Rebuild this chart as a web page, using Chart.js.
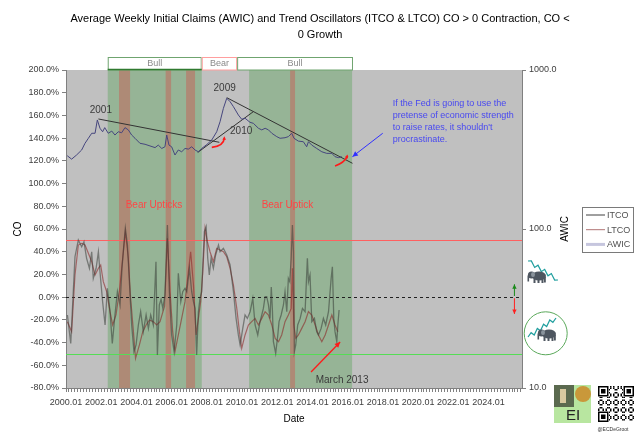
<!DOCTYPE html>
<html><head><meta charset="utf-8">
<script src="https://cdn.jsdelivr.net/npm/chart.js@4.4.1/dist/chart.umd.min.js"></script>
<style>html,body{margin:0;padding:0;background:#fff;}#wrap{width:640px;height:438px;position:relative;}</style>
</head><body><div id="wrap"><canvas id="c" width="640" height="438"></canvas></div>
<script>
// ---------------- DATA ----------------
const chartTitle = ["Average Weekly Initial Claims (AWIC) and Trend Oscillators (ITCO & LTCO) CO > 0 Contraction, CO <", "0 Growth"];
const tickYears = [2000,2002,2004,2006,2008,2010,2012,2014,2016,2018,2020,2022,2024];
const xMin = 2000, xMax = 2025.9, minorStep = 1/6;
const coTicksMin = -80, coTicksMax = 200, coStep = 20;
const awicTicks = [10, 100, 1000];

const awicX = [2000.07,2000.32,2000.6,2000.89,2001.08,2001.27,2001.46,2001.65,2001.78,2001.93,2002.08,2002.2,2002.4,2002.6,2002.78,2002.97,2003.16,2003.35,2003.54,2003.73,2003.92,2004.2,2004.49,2004.77,2005.06,2005.24,2005.44,2005.62,2005.72,2005.85,2006.0,2006.19,2006.38,2006.57,2006.76,2006.95,2007.14,2007.33,2007.52,2007.71,2008.0,2008.28,2008.56,2008.75,2008.94,2009.13,2009.32,2009.51,2009.79,2009.98,2010.17,2010.45,2010.64,2010.93,2011.12,2011.31,2011.5,2011.69,2011.97,2012.16,2012.44,2012.63,2012.82,2012.95,2013.2,2013.48,2013.67,2013.77,2013.96,2014.24,2014.53,2014.81,2015.1,2015.28,2015.47,2015.66];
const awicY = [289,275,292,314,346,372,400,400,485,430,409,434,400,413,390,409,403,434,420,390,372,346,341,333,325,337,321,329,390,337,329,292,314,306,321,318,329,314,306,321,340,363,409,473,574,664,632,588,521,490,497,469,462,430,420,430,420,400,381,372,375,381,400,372,357,354,329,354,337,321,306,299,299,285,281,285];

const itcoX = [2000.08,2000.27,2000.51,2000.70,2000.89,2001.02,2001.17,2001.33,2001.46,2001.55,2001.71,2001.84,2001.93,2002.08,2002.22,2002.35,2002.50,2002.63,2002.78,2002.92,2003.07,2003.18,2003.30,2003.37,2003.49,2003.60,2003.73,2003.86,2003.98,2004.11,2004.24,2004.39,2004.55,2004.68,2004.81,2004.96,2005.11,2005.19,2005.30,2005.40,2005.50,2005.62,2005.76,2005.87,2006.00,2006.14,2006.29,2006.38,2006.52,2006.63,2006.76,2006.86,2007.01,2007.14,2007.24,2007.33,2007.42,2007.52,2007.61,2007.71,2007.77,2007.86,2007.96,2008.05,2008.14,2008.24,2008.37,2008.50,2008.66,2008.75,2008.94,2009.13,2009.32,2009.51,2009.66,2009.79,2009.89,2010.04,2010.17,2010.30,2010.46,2010.61,2010.74,2010.89,2011.02,2011.12,2011.21,2011.31,2011.40,2011.50,2011.59,2011.66,2011.72,2011.78,2011.91,2012.03,2012.10,2012.22,2012.35,2012.44,2012.54,2012.63,2012.71,2012.79,2012.86,2012.92,2012.97,2013.05,2013.16,2013.30,2013.43,2013.58,2013.71,2013.77,2013.86,2013.96,2014.11,2014.24,2014.34,2014.49,2014.62,2014.75,2014.91,2015.06,2015.13,2015.21,2015.28,2015.38,2015.44,2015.51];
const itcoY = [-15.7,-40.7,35.6,50.3,44.4,48.8,34.2,25.4,40.0,16.5,25.4,40.0,22.4,-4.0,-24.5,7.8,-12.8,-40.7,-15.7,4.8,-6.9,25.4,48.8,60.6,45.9,13.6,-24.5,-48.0,-42.1,-24.5,-12.8,-30.4,-15.7,-27.5,-15.7,-24.5,31.2,-51.0,-6.9,-2.0,-9.9,1.9,63.5,4.8,-33.3,-48.0,-24.5,21.0,-4.0,4.8,7.8,4.8,25.4,4.8,-4.0,-9.9,-51.0,-12.8,-1.0,4.8,28.3,57.6,62.1,34.2,19.5,34.2,25.4,37.1,45.9,40.0,43.0,37.1,28.3,4.8,-18.7,-33.3,-42.1,-27.5,-15.7,-18.7,-12.8,-1.0,-24.5,-33.3,-21.6,-15.7,-9.9,0.4,0.4,-6.9,-18.7,9.0,-9.9,-39.2,-49.5,-33.3,-21.6,-15.7,-6.9,4.8,-12.8,16.5,13.6,34.2,63.5,40.0,-48.0,-42.1,-24.5,-18.7,-9.9,-12.8,34.2,13.6,19.5,-21.6,-18.7,-30.4,-33.3,-27.5,-18.7,-24.5,-12.8,16.5,26.8,-18.7,-30.4,-39.2,-24.5,-11.3];

const ltcoX = [2000.08,2000.32,2000.51,2000.70,2000.89,2001.08,2001.27,2001.46,2001.65,2001.84,2001.97,2002.12,2002.31,2002.50,2002.65,2002.84,2003.03,2003.22,2003.37,2003.54,2003.67,2003.83,2003.95,2004.17,2004.36,2004.55,2004.74,2004.96,2005.15,2005.34,2005.60,2005.76,2005.91,2006.06,2006.19,2006.38,2006.57,2006.76,2006.95,2007.08,2007.24,2007.39,2007.52,2007.65,2007.77,2007.90,2008.03,2008.18,2008.37,2008.56,2008.75,2008.94,2009.13,2009.32,2009.51,2009.70,2009.85,2009.98,2010.17,2010.36,2010.55,2010.74,2010.93,2011.12,2011.31,2011.50,2011.69,2011.88,2012.07,2012.25,2012.44,2012.63,2012.79,2012.86,2012.94,2013.05,2013.20,2013.39,2013.58,2013.77,2013.96,2014.15,2014.34,2014.53,2014.72,2014.91,2015.10,2015.28,2015.44];
const ltcoY = [-21.6,-30.4,19.5,45.9,47.4,45.9,38.6,31.2,19.5,25.4,28.3,13.6,4.8,-12.8,-24.5,-15.7,4.8,34.2,57.6,34.2,-1.0,-30.4,-54.0,-42.1,-30.4,-24.5,-20.1,-21.6,-24.5,-21.6,-8.0,51.8,4.8,-30.4,-48.0,-33.3,-18.7,-4.0,22.4,40.0,10.7,-33.3,-18.7,-4.0,22.4,60.6,48.8,40.0,31.2,43.0,41.5,40.0,35.6,25.4,10.7,-9.9,-30.4,-45.1,-33.3,-24.5,-21.6,-18.7,-24.5,-18.7,-12.8,-15.7,-24.5,-36.3,-39.2,-33.3,-21.6,-15.7,-9.9,25.4,-24.5,-36.3,-33.3,-27.5,-21.6,-12.8,-15.7,-24.5,-33.3,-39.2,-33.3,-24.5,-15.7,-24.5,-30.4];

const trend2001X = [2001.84, 2008.71], trend2001Y = [492, 351];
const trend2009X = [2009.13, 2016.27], trend2009Y = [670, 259];
const trend2010X = [2007.48, 2010.64], trend2010Y = [303, 547];

const bullRanges = [[2002.37, 2007.71], [2010.40, 2016.25]];
const uptickRanges = [[2003.01, 2003.64], [2005.66, 2005.97], [2006.82, 2007.33], [2012.73, 2013.01]];
const regimeLabels = ['Bull', 'Bear', 'Bull'];
const regimeFrom = [2002.37, 2007.71, 2009.72];
const regimeTo = [2007.71, 2009.72, 2016.30];
const coUpper = 50, coLower = -50, coZero = 0;

const noteText = ['2001', '2009', '2010', 'Bear Upticks', 'Bear Uptick', 'March 2013'];
const noteX = [2001.98, 2009.01, 2009.95, 2005.0, 2012.58, 2015.68];
const noteY = [164.8, 183.9, 145.7, 81.1, 81.1, -73.0];
const fedText = ["If the Fed is going to use the", "pretense of economic strength", "to raise rates, it shouldn't", "procrastinate."];
const fedX = 2018.56, fedY = 170.1;
const fedArrowX = [2017.99, 2016.27], fedArrowY = [144.3, 123.7];
const marchArrowX = [2013.92, 2015.57], marchArrowY = [-65.9, -39.5];
const curve1X = [2008.28, 2008.95, 2009.0], curve1Y = [131.9, 133.0, 140.3];
const curve2X = [2015.28, 2015.8, 2016.0], curve2Y = [115.5, 118.0, 124.3];
const upArrowX = 2025.47, upArrowY = [1.0, 11.3], downArrowY = [-1.0, -14.8];

// ---------------- CHART ----------------
Chart.defaults.font.family = "'Liberation Sans', Arial, sans-serif";
const FONT = "'Liberation Sans', Arial, sans-serif";
const pts = (xs, ys) => xs.map((x, i) => ({x, y: ys[i]}));

function arrowHead(ctx, x1, y1, x2, y2, size) {
  const a = Math.atan2(y2 - y1, x2 - x1);
  ctx.beginPath();
  ctx.moveTo(x2, y2);
  ctx.lineTo(x2 - size * Math.cos(a - 0.45), y2 - size * Math.sin(a - 0.45));
  ctx.lineTo(x2 - size * Math.cos(a + 0.45), y2 - size * Math.sin(a + 0.45));
  ctx.closePath();
  ctx.fill();
}
function arrow(ctx, x1, y1, x2, y2, color, w, size) {
  ctx.strokeStyle = color; ctx.fillStyle = color; ctx.lineWidth = w;
  ctx.beginPath(); ctx.moveTo(x1, y1); ctx.lineTo(x2, y2); ctx.stroke();
  arrowHead(ctx, x1, y1, x2, y2, size);
}
function elephant(ctx, x, y, flip) {
  ctx.save(); ctx.translate(x, y); if (flip) ctx.scale(-1, 1);
  ctx.fillStyle = '#4e5660';
  ctx.beginPath(); ctx.ellipse(0, 0, 7, 4.5, 0, 0, Math.PI * 2); ctx.fill();
  ctx.beginPath(); ctx.arc(-7.5, -1, 3.6, 0, Math.PI * 2); ctx.fill();
  ctx.fillRect(-11.5, -0.5, 1.6, 6);
  ctx.fillRect(-5.5, 2, 2, 5); ctx.fillRect(-1.5, 2, 2, 5); ctx.fillRect(2.5, 2, 2, 5); ctx.fillRect(5, 1, 1.8, 5.5);
  ctx.fillStyle = '#8a939c';
  ctx.beginPath(); ctx.ellipse(-6, -1.5, 2, 2.6, 0, 0, Math.PI * 2); ctx.fill();
  ctx.restore();
}
function zigzag(ctx, x1, y1, x2, y2, n) {
  ctx.strokeStyle = '#1f9e9e'; ctx.lineWidth = 1.2;
  ctx.beginPath(); ctx.moveTo(x1, y1);
  for (let i = 1; i <= n; i++) {
    const t = i / n, off = (i % 2 ? -2.2 : 2.2);
    ctx.lineTo(x1 + (x2 - x1) * t, y1 + (y2 - y1) * t + (i < n ? off : 0));
  }
  ctx.stroke();
}

const deco = {
  id: 'deco',
  beforeDraw(chart) {
    const {ctx, chartArea: a, scales: {x}} = chart;
    const X = v => x.getPixelForValue(v);
    ctx.save();
    ctx.fillStyle = '#c0c0c0';
    ctx.fillRect(a.left, a.top, a.width, a.height);
    ctx.fillStyle = 'rgb(150,180,150)';
    bullRanges.forEach(([s, e]) => ctx.fillRect(X(s), a.top, X(e) - X(s), a.height));
    ctx.fillStyle = 'rgb(174,138,118)';
    uptickRanges.forEach(([s, e]) => ctx.fillRect(X(s), a.top, X(e) - X(s), a.height));
    // regime header boxes
    ctx.font = '9px ' + FONT; ctx.textAlign = 'center'; ctx.textBaseline = 'middle';
    regimeLabels.forEach((lab, i) => {
      const x1 = X(regimeFrom[i]), x2 = X(regimeTo[i]);
      ctx.fillStyle = '#fff';
      ctx.fillRect(x1, a.top - 13, x2 - x1, 13);
      ctx.strokeStyle = lab === 'Bear' ? '#ff9e9e' : '#6fa46f';
      ctx.lineWidth = 1;
      ctx.strokeRect(x1 + 0.5, a.top - 12.5, x2 - x1 - 1, 12.5);
      ctx.fillStyle = '#8a8a8a';
      ctx.fillText(lab, (x1 + x2) / 2, a.top - 6.5);
    });
    ctx.strokeStyle = '#2f7a2f'; ctx.lineWidth = 1.5;
    ctx.beginPath(); ctx.moveTo(X(regimeFrom[0]), a.top - 0.5); ctx.lineTo(X(regimeTo[0]), a.top - 0.5); ctx.stroke();
    ctx.restore();
  },
  beforeDatasetsDraw(chart) {
    const {ctx, chartArea: a, scales: {yL}} = chart;
    const Y = v => yL.getPixelForValue(v);
    ctx.save();
    ctx.lineWidth = 1;
    ctx.strokeStyle = '#ff6060';
    ctx.beginPath(); ctx.moveTo(a.left, Math.round(Y(coUpper)) + 0.5); ctx.lineTo(a.right, Math.round(Y(coUpper)) + 0.5); ctx.stroke();
    ctx.strokeStyle = '#55dd55';
    ctx.beginPath(); ctx.moveTo(a.left, Math.round(Y(coLower)) + 0.5); ctx.lineTo(a.right, Math.round(Y(coLower)) + 0.5); ctx.stroke();
    ctx.strokeStyle = '#202020'; ctx.setLineDash([3, 3]);
    ctx.beginPath(); ctx.moveTo(a.left, Math.round(Y(coZero)) + 0.5); ctx.lineTo(a.right, Math.round(Y(coZero)) + 0.5); ctx.stroke();
    ctx.restore();
  },
  afterDraw(chart) {
    const {ctx, chartArea: a, scales: {x, yL}} = chart;
    const X = v => x.getPixelForValue(v);
    const Y = v => yL.getPixelForValue(v);
    ctx.save();
    // title
    ctx.fillStyle = '#000'; ctx.font = '11px ' + FONT; ctx.textAlign = 'center'; ctx.textBaseline = 'middle';
    chartTitle.forEach((t, i) => ctx.fillText(t, 320, 19 + i * 16));
    // notes
    ctx.font = '10px ' + FONT;
    noteText.forEach((t, i) => {
      ctx.fillStyle = t.startsWith('Bear') ? '#ff4545' : '#3a3a3a';
      ctx.fillText(t, X(noteX[i]), Y(noteY[i]));
    });
    // fed text
    ctx.fillStyle = '#4848f0'; ctx.textAlign = 'left'; ctx.font = '9px ' + FONT;
    fedText.forEach((t, i) => ctx.fillText(t, X(fedX), Y(fedY) + i * 12));
    arrow(ctx, X(fedArrowX[0]), Y(fedArrowY[0]), X(fedArrowX[1]), Y(fedArrowY[1]), '#3030ff', 1, 6);
    arrow(ctx, X(marchArrowX[0]), Y(marchArrowY[0]), X(marchArrowX[1]), Y(marchArrowY[1]), '#ff1a1a', 1.3, 6);
    // red curved arrows
    [[curve1X, curve1Y], [curve2X, curve2Y]].forEach(([cx, cy]) => {
      ctx.strokeStyle = '#ff1a1a'; ctx.fillStyle = '#ff1a1a'; ctx.lineWidth = 1.6;
      ctx.beginPath(); ctx.moveTo(X(cx[0]), Y(cy[0]));
      ctx.quadraticCurveTo(X(cx[1]), Y(cy[1]), X(cx[2]), Y(cy[2])); ctx.stroke();
      arrowHead(ctx, X(cx[1]), Y(cy[1]), X(cx[2]), Y(cy[2]) - 1.5, 4);
    });
    // up/down arrows
    arrow(ctx, X(upArrowX), Y(upArrowY[0]), X(upArrowX), Y(upArrowY[1]), '#1a8a1a', 1, 5);
    arrow(ctx, X(upArrowX), Y(downArrowY[0]), X(upArrowX), Y(downArrowY[1]), '#ff2020', 1, 5);
    // AWIC axis title
    ctx.save(); ctx.translate(a.right + 43, (a.top + a.bottom) / 2); ctx.rotate(-Math.PI / 2);
    ctx.fillStyle = '#000'; ctx.font = '10px ' + FONT; ctx.textAlign = 'center'; ctx.textBaseline = 'middle';
    ctx.fillText('AWIC', 0, 0); ctx.restore();
    // legend
    const lx = a.right + 60, ly = (a.top + a.bottom) / 2 - 22;
    ctx.fillStyle = '#fff'; ctx.fillRect(lx, ly, 51, 45);
    ctx.strokeStyle = '#7a7a7a'; ctx.lineWidth = 1; ctx.strokeRect(lx + 0.5, ly + 0.5, 51, 45);
    ctx.font = '9px ' + FONT; ctx.textAlign = 'left'; ctx.textBaseline = 'middle';
    chart.data.datasets.filter(d => d.inLegend).forEach((d, i) => {
      const yy = ly + 8 + i * 14.7;
      ctx.strokeStyle = d.legendColor; ctx.lineWidth = d.legendWidth;
      ctx.beginPath(); ctx.moveTo(lx + 4, yy); ctx.lineTo(lx + 23, yy); ctx.stroke();
      ctx.fillStyle = '#505050'; ctx.fillText(d.label, lx + 25, yy + 0.5);
    });
    // icons
    zigzag(ctx, a.right + 6, 261, a.right + 36, 280, 9);
    elephant(ctx, a.right + 17, 276, false);
    ctx.strokeStyle = '#5aa85a'; ctx.lineWidth = 1;
    ctx.beginPath(); ctx.arc(a.right + 23.7, 333.3, 21.5, 0, Math.PI * 2); ctx.stroke();
    zigzag(ctx, a.right + 6, 337, a.right + 34, 318, 9);
    elephant(ctx, a.right + 27, 334, false);
    // EI logo
    ctx.fillStyle = '#b8e6a0'; ctx.fillRect(554, 385, 37, 38);
    ctx.fillStyle = '#5b6a4f'; ctx.fillRect(554, 385, 20, 22);
    ctx.fillStyle = '#d8c9a0'; ctx.fillRect(560, 389, 6, 14);
    ctx.fillStyle = '#c9983a'; ctx.beginPath(); ctx.arc(583, 394, 8, 0, Math.PI * 2); ctx.fill();
    ctx.fillStyle = '#222'; ctx.font = '15px ' + FONT; ctx.textAlign = 'center'; ctx.textBaseline = 'middle';
    ctx.fillText('EI', 573, 416);
    // QR-like mark
    const qx = 598, qy = 386, cs = 1.5;
    ctx.fillStyle = '#000';
    for (let i = 0; i < 24; i++) for (let j = 0; j < 24; j++) {
      if (((i * 7 + j * 11 + i * j) % 5) < 2) ctx.fillRect(qx + i * cs, qy + j * cs, cs, cs);
    }
    [[0, 0], [17, 0], [0, 17]].forEach(([i, j]) => {
      ctx.fillStyle = '#fff'; ctx.fillRect(qx + i * cs - 0.5, qy + j * cs - 0.5, 7 * cs + 1, 7 * cs + 1);
      ctx.fillStyle = '#000'; ctx.fillRect(qx + i * cs, qy + j * cs, 7 * cs, 7 * cs);
      ctx.fillStyle = '#fff'; ctx.fillRect(qx + (i + 1) * cs, qy + (j + 1) * cs, 5 * cs, 5 * cs);
      ctx.fillStyle = '#000'; ctx.fillRect(qx + (i + 2) * cs, qy + (j + 2) * cs, 3 * cs, 3 * cs);
    });
    ctx.fillStyle = '#333'; ctx.font = '5px ' + FONT; ctx.fillText('@ECDeGroot', 613, 430);
    ctx.restore();
  }
};

new Chart(document.getElementById('c'), {
  type: 'line',
  data: {
    datasets: [
      {label: 'ITCO', data: pts(itcoX, itcoY), yAxisID: 'yL', borderColor: 'rgba(55,60,55,0.55)', borderWidth: 1.3, pointRadius: 0, tension: 0, inLegend: true, legendColor: '#404040', legendWidth: 1},
      {label: 'LTCO', data: pts(ltcoX, ltcoY), yAxisID: 'yL', borderColor: 'rgba(140,40,40,0.6)', borderWidth: 1.2, pointRadius: 0, tension: 0, inLegend: true, legendColor: '#b07474', legendWidth: 1},
      {label: 'AWIC', data: pts(awicX, awicY), yAxisID: 'yR', borderColor: '#46467e', borderWidth: 1, pointRadius: 0, tension: 0, inLegend: true, legendColor: '#c6c6de', legendWidth: 3},
      {label: 'trend2001', data: pts(trend2001X, trend2001Y), yAxisID: 'yR', borderColor: '#333', borderWidth: 1, pointRadius: 0},
      {label: 'trend2009', data: pts(trend2009X, trend2009Y), yAxisID: 'yR', borderColor: '#333', borderWidth: 1, pointRadius: 0},
      {label: 'trend2010', data: pts(trend2010X, trend2010Y), yAxisID: 'yR', borderColor: '#333', borderWidth: 1, pointRadius: 0}
    ]
  },
  options: {
    responsive: false,
    animation: false,
    layout: {padding: {top: 70, left: 0, right: 0, bottom: 0}},
    plugins: {legend: {display: false}, title: {display: false}, tooltip: {enabled: false}},
    scales: {
      x: {
        type: 'linear', position: 'bottom', min: xMin, max: xMax,
        afterBuildTicks: s => {
          const t = [];
          for (let k = 0; xMin + k * minorStep <= xMax + 1e-9; k++) t.push({value: xMin + k * minorStep});
          s.ticks = t;
        },
        ticks: {
          autoSkip: false, maxRotation: 0, minRotation: 0, padding: 5, color: '#404040', font: {size: 9},
          callback: v => { const yr = tickYears.find(t => Math.abs(t - v) < 1e-6); return yr !== undefined ? yr + '.01' : ''; }
        },
        grid: {display: true, drawOnChartArea: false, drawTicks: true, tickLength: 4, color: '#808080'},
        border: {display: true, color: '#808080'},
        title: {display: true, text: 'Date', color: '#000', font: {size: 10}, padding: {top: 0, bottom: 13}},
        afterFit: s => { s.height = 50; }
      },
      yL: {
        type: 'linear', position: 'left', min: coTicksMin, max: coTicksMax,
        ticks: {stepSize: coStep, padding: 3, color: '#404040', font: {size: 9}, callback: v => v.toFixed(1) + '%'},
        grid: {display: true, drawOnChartArea: false, tickLength: 4, color: '#808080'},
        border: {display: true, color: '#808080'},
        title: {display: true, text: 'CO', color: '#000', font: {size: 10}, padding: {top: 12, bottom: 0}},
        afterFit: s => { s.width = 66; }
      },
      yR: {
        type: 'logarithmic', position: 'right', min: awicTicks[0], max: awicTicks[awicTicks.length - 1],
        afterBuildTicks: s => { s.ticks = awicTicks.map(v => ({value: v})); },
        ticks: {padding: 3, color: '#404040', font: {size: 9}, callback: v => Number(v).toFixed(1)},
        grid: {display: true, drawOnChartArea: false, tickLength: 4, color: '#808080'},
        border: {display: true, color: '#808080'},
        afterFit: s => { s.width = 118; }
      }
    }
  },
  plugins: [deco]
});
</script></body></html>
